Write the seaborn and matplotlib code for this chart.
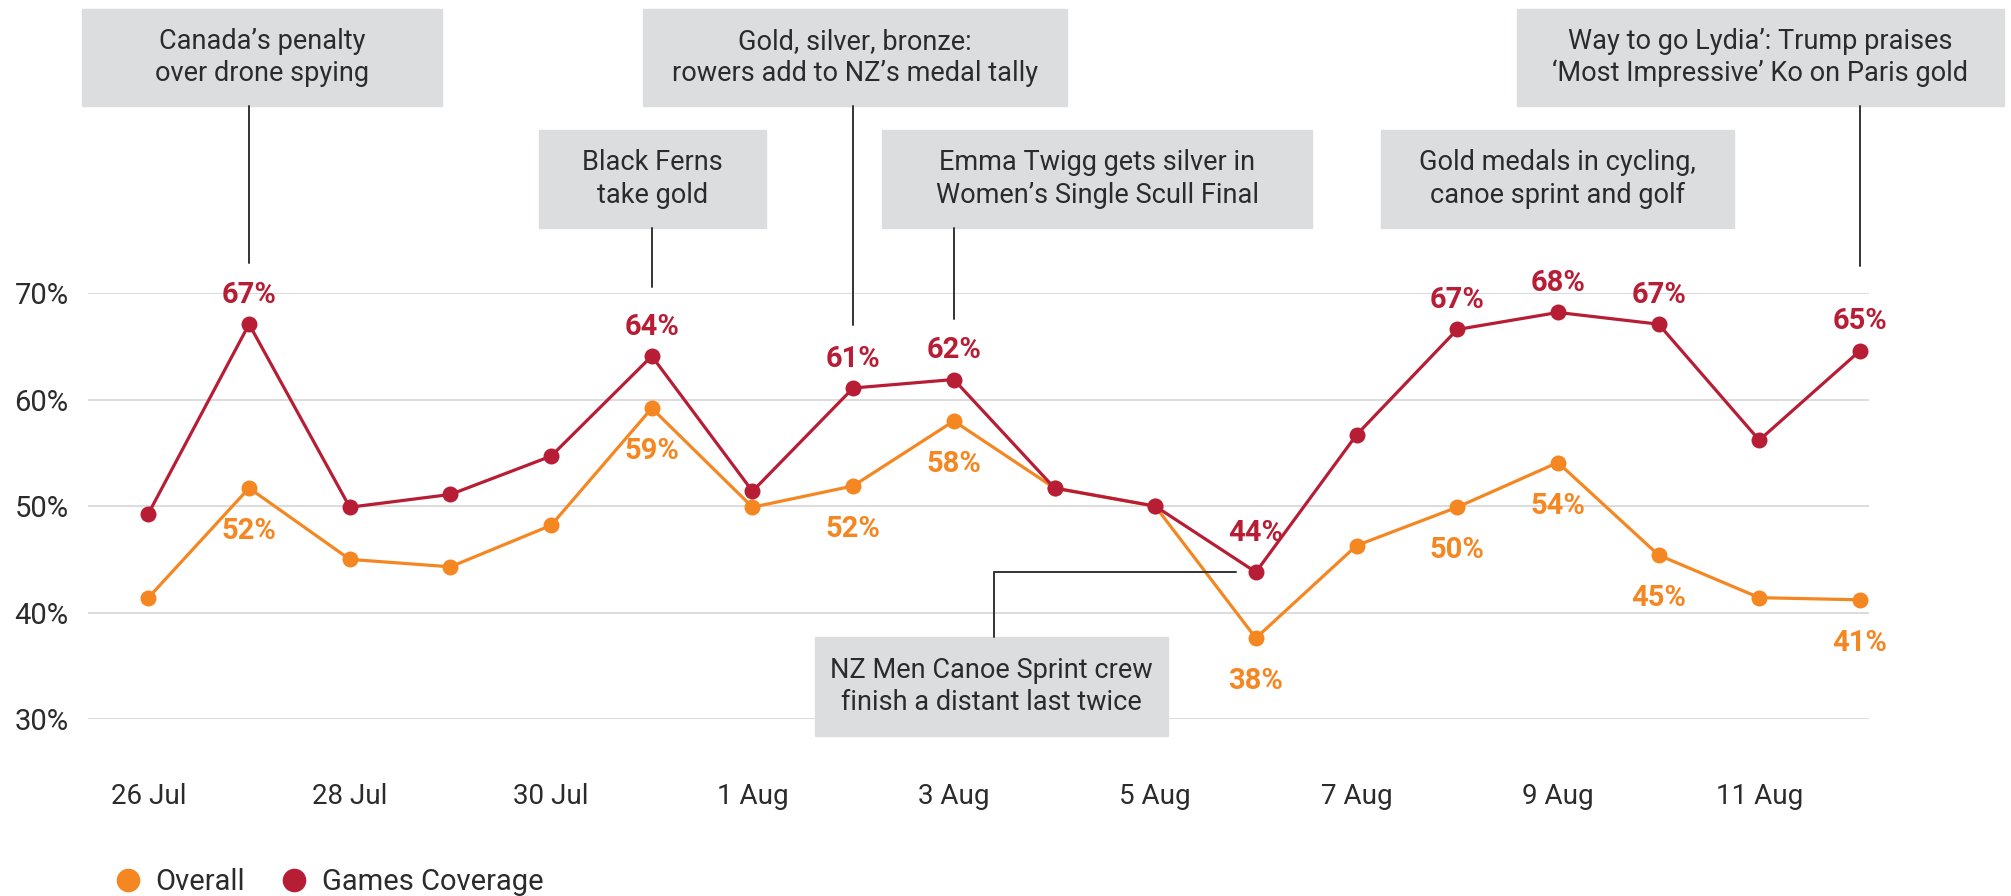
import matplotlib
matplotlib.use("Agg")
import matplotlib.pyplot as plt
from matplotlib.lines import Line2D
from matplotlib.patches import Rectangle
import numpy as np
import pandas as pd
import seaborn as sns

# ---- data ----
days = ["26 Jul", "27 Jul", "28 Jul", "29 Jul", "30 Jul", "31 Jul", "1 Aug", "2 Aug", "3 Aug",
        "4 Aug", "5 Aug", "6 Aug", "7 Aug", "8 Aug", "9 Aug", "10 Aug", "11 Aug", "12 Aug"]
overall = [41.4, 51.7, 45.0, 44.3, 48.2, 59.2, 49.9, 51.9, 58.0,
           51.7, 50.0, 37.6, 46.3, 49.9, 54.1, 45.4, 41.4, 41.2]
games = [49.3, 67.1, 49.9, 51.1, 54.7, 64.1, 51.4, 61.1, 61.9,
         51.7, 50.0, 43.8, 56.7, 66.6, 68.2, 67.1, 56.2, 64.6]
series_names = ["Overall", "Games Coverage"]
labelled_days = ["27 Jul", "31 Jul", "2 Aug", "3 Aug", "6 Aug", "8 Aug", "9 Aug", "10 Aug", "12 Aug"]
tick_days = ["26 Jul", "28 Jul", "30 Jul", "1 Aug", "3 Aug", "5 Aug", "7 Aug", "9 Aug", "11 Aug"]
y_ticks = [30, 40, 50, 60, 70]

# headline notes: text, box (left, top, right, bottom) in px, connector day, connector end px
notes = [
    ("Canada\u2019s penalty\nover drone spying", (82, 9, 442, 106), "27 Jul", 263),
    ("Black Ferns\ntake gold", (539, 130, 766, 228), "31 Jul", 287),
    ("Gold, silver, bronze:\nrowers add to NZ\u2019s medal tally", (643, 9, 1067, 106), "2 Aug", 325),
    ("Emma Twigg gets silver in\nWomen\u2019s Single Scull Final", (882, 130, 1312, 228), "3 Aug", 319),
    ("Gold medals in cycling,\ncanoe sprint and golf", (1381, 130, 1734, 228), None, None),
    ("Way to go Lydia\u2019: Trump praises\n\u2018Most Impressive\u2019 Ko on Paris gold", (1517, 9, 2004, 106), "12 Aug", 266),
]
canoe_note = "NZ Men Canoe Sprint crew\nfinish a distant last twice"

ORANGE = "#F58723"
RED = "#B71E36"
BOX = "#DCDDDF"
INK = "#2B2B2B"
W, H = 2011, 896

df = pd.DataFrame({
    "day": list(range(len(days))) * 2,
    "value": overall + games,
    "series": [series_names[0]] * len(days) + [series_names[1]] * len(days),
})

sns.set_theme(style="white")
plt.rcParams["font.family"] = ["Roboto", "DejaVu Sans"]

fig = plt.figure(figsize=(W / 100, H / 100), dpi=100)
ax = fig.add_axes([88 / W, 1 - 719 / H, (1869 - 88) / W, (719 - 293.3) / H])


def fx(px):
    return px / W


def fy(py):
    return 1 - py / H


sns.lineplot(data=df, x="day", y="value", hue="series", hue_order=series_names,
             palette=[ORANGE, RED], marker="o", markersize=11.5, markeredgewidth=0,
             linewidth=2.3, legend=False, ax=ax, zorder=3)

ax.set_xlim(-0.6, 17.09)
ax.set_ylim(30, 70)
ax.set_yticks(y_ticks)
ax.set_yticklabels([f"{t}%" for t in y_ticks])
ax.set_xticks([days.index(d) for d in tick_days])
ax.set_xticklabels(tick_days)
ax.set_xlabel(""); ax.set_ylabel("")
ax.tick_params(axis="y", labelsize=21, labelcolor=INK, length=0, pad=14)
ax.tick_params(axis="x", labelsize=20, labelcolor=INK, length=0, pad=46)
ax.grid(axis="y", color="#D9D9D9", lw=1.3)
ax.grid(axis="x", visible=False)
sns.despine(ax=ax, left=True, bottom=True)

# value labels
for d in labelled_days:
    i = days.index(d)
    up = 18 if d == "6 Aug" else 11
    ax.annotate(f"{games[i]:.0f}%", (i, games[i]), xytext=(0, up), textcoords="offset points",
                ha="center", va="bottom", fontsize=21, fontweight="bold", color=RED)
    ax.annotate(f"{overall[i]:.0f}%", (i, overall[i]), xytext=(0, -21), textcoords="offset points",
                ha="center", va="top", fontsize=21, fontweight="bold", color=ORANGE)

# headline boxes
for text, (l, t, r, b), day, line_end in notes:
    fig.patches.append(Rectangle((fx(l), fy(b)), fx(r) - fx(l), fy(t) - fy(b),
                                 transform=fig.transFigure, color=BOX, zorder=1))
    fig.text(fx((l + r) / 2), fy((t + b) / 2), text, ha="center", va="center",
             fontsize=19.5, color=INK, linespacing=1.25)
    if day is not None:
        xd = ax.transData.transform((days.index(day), 0))[0] / W
        fig.add_artist(Line2D([xd, xd], [fy(b), fy(line_end)], color="#333333", lw=1.4))

# canoe sprint note below the dip
l, t, r, b = 815, 637, 1168, 736
fig.patches.append(Rectangle((fx(l), fy(b)), fx(r) - fx(l), fy(t) - fy(b),
                             transform=fig.transFigure, color=BOX, zorder=1))
fig.text(fx((l + r) / 2), fy((t + b) / 2), canoe_note, ha="center", va="center",
         fontsize=19.5, color=INK, linespacing=1.25)
fig.add_artist(Line2D([fx(994), fx(994), fx(1236)], [fy(637), fy(572), fy(572)],
                      color="#333333", lw=1.4))

# legend
handles = [Line2D([], [], ls="none", marker="o", markersize=17, markeredgewidth=0, color=c)
           for c in (ORANGE, RED)]
fig.legend(handles, series_names, loc="center left", bbox_to_anchor=(fx(113), fy(882)),
           ncol=2, frameon=False, fontsize=21, handlelength=1.0, handletextpad=0.45,
           columnspacing=1.2, labelcolor=INK, borderaxespad=0, borderpad=0)

fig.savefig("out.png", dpi=100)
